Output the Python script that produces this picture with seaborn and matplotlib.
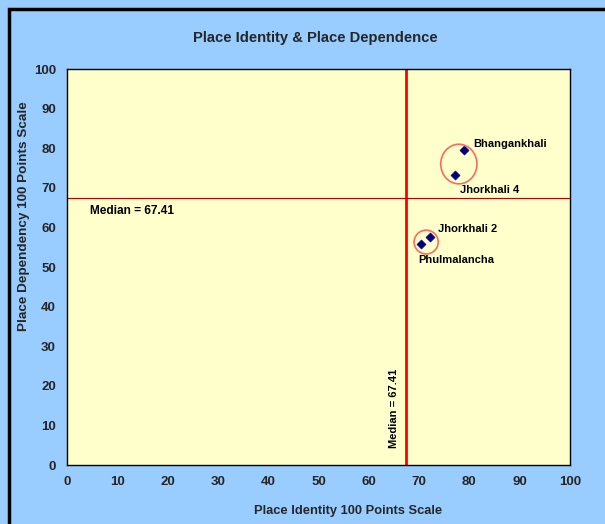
import numpy as np
import pandas as pd
import matplotlib
matplotlib.use('Agg')
import matplotlib.pyplot as plt
import seaborn as sns
from matplotlib.patches import Ellipse, Rectangle

# data
places = ['Bhangankhali', 'Jhorkhali 4', 'Jhorkhali 2', 'Phulmalancha']
identity = [78.9, 77.1, 72.2, 70.4]
dependence = [79.5, 73.2, 57.6, 55.8]
median_x = 67.41
median_y = 67.41
ticks = list(range(0, 101, 10))

df = pd.DataFrame({'Place': places, 'Identity': identity, 'Dependence': dependence})

sns.set_style('white')
plt.rcParams['font.family'] = ['Liberation Sans', 'DejaVu Sans']
plt.rcParams['font.weight'] = 'bold'

fig = plt.figure(figsize=(6.05, 5.24), dpi=100, facecolor='#99CCFF')
ax = fig.add_axes([67 / 605, 59 / 524, 503 / 605, 396 / 524])
ax.set_facecolor('#FFFFCC')

# outer black frame (left and top visible in the reference)
fig.patches.append(Rectangle((9 / 605, -0.1), 1.2, (524 - 9) / 524 + 0.1,
                             transform=fig.transFigure, fill=False,
                             edgecolor='black', linewidth=2.5))

# median lines
ax.axvline(median_x, color='#FF0000', linewidth=2, zorder=2)
ax.axhline(median_y, color='#C00000', linewidth=0.8, zorder=2)

sns.scatterplot(data=df, x='Identity', y='Dependence', marker='D', s=22,
                color='#000080', edgecolor='#000080', ax=ax, zorder=3)

# cluster rings
ax.add_patch(Ellipse((77.9, 76.0), 7.2, 10.0, fill=False,
                     edgecolor='#FF6A5A', linewidth=1.2, zorder=3))
ax.add_patch(Ellipse((71.4, 56.3), 4.8, 6.0, fill=False,
                     edgecolor='#FF6A5A', linewidth=1.2, zorder=3))

# point labels
lab = dict(fontweight='bold', color='black')
ax.text(80.8, 81.0, places[0], ha='left', va='center', fontsize=8, **lab)
ax.text(78.2, 69.5, places[1], ha='left', va='center', fontsize=8, **lab)
ax.text(73.8, 59.5, places[2], ha='left', va='center', fontsize=8, **lab)
ax.text(69.8, 51.8, places[3], ha='left', va='center', fontsize=8, **lab)
ax.text(4.5, 64.2, f'Median = {median_y}', ha='left', va='center', fontsize=8.6, **lab)
ax.text(65.0, 14.2, f'Median = {median_x}', ha='center', va='center',
        rotation=90, fontsize=8, **lab)

ax.set_xlim(0, 100)
ax.set_ylim(0, 100)
ax.set_xticks(ticks)
ax.set_yticks(ticks)
ax.tick_params(axis='both', labelsize=9.5, length=4, width=1, color='black',
               direction='out', pad=4)
for t in ax.get_xticklabels() + ax.get_yticklabels():
    t.set_fontweight('bold')
for s in ax.spines.values():
    s.set_color('black')
    s.set_linewidth(1)

ax.set_xlabel('')
ax.set_ylabel('Place Dependency 100 Points Scale', fontsize=9.7, fontweight='bold')
ax.yaxis.set_label_coords(-(67 - 30) / 503, (465 - 216) / 396)
fig.text(348 / 605, (524 - 511) / 524, 'Place Identity 100 Points Scale',
         ha='center', va='center', fontsize=9.3, fontweight='bold')
fig.text(315 / 605, (524 - 38) / 524, 'Place Identity & Place Dependence',
         ha='center', va='center', fontsize=10.6, fontweight='bold')

fig.savefig('out.png', dpi=100, facecolor=fig.get_facecolor())
